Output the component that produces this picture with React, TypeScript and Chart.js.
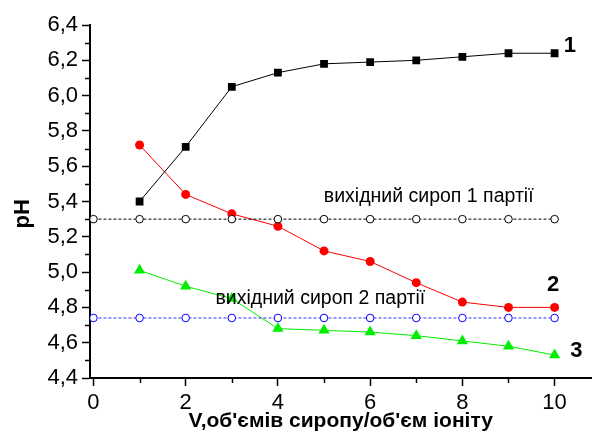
import React, { useEffect, useRef } from "react";
import { Chart, registerables } from "chart.js";

Chart.register(...registerables);

const xValues = [1, 2, 3, 4, 5, 6, 7, 8, 9, 10];
const series1 = [5.4, 5.71, 6.05, 6.13, 6.18, 6.19, 6.2, 6.22, 6.24, 6.24];
const series2 = [5.72, 5.44, 5.33, 5.26, 5.12, 5.06, 4.94, 4.83, 4.8, 4.8];
const series3 = [5.01, 4.92, 4.85, 4.68, 4.67, 4.66, 4.64, 4.61, 4.58, 4.53];
const refX = [0, 1, 2, 3, 4, 5, 6, 7, 8, 9, 10];
const ref1Value = 5.3;
const ref2Value = 4.74;
const xMajorTicks = [0, 2, 4, 6, 8, 10];
const xMinorTicks = [1, 3, 5, 7, 9];
const yMajorTicks = [4.4, 4.6, 4.8, 5.0, 5.2, 5.4, 5.6, 5.8, 6.0, 6.2, 6.4];
const yMinorTicks = [4.5, 4.7, 4.9, 5.1, 5.3, 5.5, 5.7, 5.9, 6.1, 6.3];
const ref1Label = "вихідний сироп 1 партії";
const ref2Label = "вихідний сироп 2 партії";
const curveLabels = ["1", "2", "3"];
const yTitle = "pH";
const xTitle = "V,об'ємів сиропу/об'єм іоніту";

const FONT = "'Liberation Sans', Arial, sans-serif";

const annotations = [
  { text: ref1Label, x: 7.27, y: 5.43, size: 19.5, bold: false },
  { text: ref2Label, x: 4.92, y: 4.85, size: 19.5, bold: false },
  { text: curveLabels[0], x: 10.33, y: 6.28, size: 22, bold: true },
  { text: curveLabels[1], x: 9.97, y: 4.93, size: 22, bold: true },
  { text: curveLabels[2], x: 10.47, y: 4.554, size: 22, bold: true },
];

const extrasPlugin = {
  id: "extras",
  afterDraw(chart: any) {
    const ctx = chart.ctx;
    const xs = chart.scales.x;
    const ys = chart.scales.y;
    ctx.save();
    ctx.strokeStyle = "#000";
    ctx.lineWidth = 1.5;
    ctx.beginPath();
    for (const v of xMinorTicks) {
      const px = Math.round(xs.getPixelForValue(v)) + 0.5;
      ctx.moveTo(px, xs.top);
      ctx.lineTo(px, xs.top + 5);
    }
    for (const v of yMinorTicks) {
      const py = Math.round(ys.getPixelForValue(v)) + 0.5;
      ctx.moveTo(ys.right, py);
      ctx.lineTo(ys.right - 5, py);
    }
    ctx.stroke();
    ctx.fillStyle = "#000";
    ctx.textAlign = "center";
    ctx.textBaseline = "middle";
    for (const a of annotations) {
      ctx.font = `${a.bold ? "bold " : ""}${a.size}px ${FONT}`;
      ctx.fillText(a.text, xs.getPixelForValue(a.x), ys.getPixelForValue(a.y));
    }
    // y axis title
    ctx.font = `bold 22px ${FONT}`;
    ctx.translate(23, ys.getPixelForValue(5.33));
    ctx.rotate(-Math.PI / 2);
    ctx.fillText(yTitle, 0, 0);
    ctx.restore();
  },
};

export default function App() {
  const ref = useRef<HTMLCanvasElement | null>(null);
  useEffect(() => {
    if (!ref.current) return;
    const chart = new Chart(ref.current, {
      type: "line",
      data: {
        datasets: [
          {
            data: refX.map((x) => ({ x, y: ref1Value })),
            borderColor: "#000",
            borderWidth: 1,
            borderDash: [3, 2],
            pointStyle: "circle",
            pointRadius: 3.8,
            pointBackgroundColor: "#fff",
            pointBorderColor: "#000",
            pointBorderWidth: 1,
          },
          {
            data: refX.map((x) => ({ x, y: ref2Value })),
            borderColor: "#3333ff",
            borderWidth: 1,
            borderDash: [3, 2],
            pointStyle: "circle",
            pointRadius: 3.8,
            pointBackgroundColor: "#fff",
            pointBorderColor: "#0000ff",
            pointBorderWidth: 1,
          },
          {
            data: xValues.map((x, i) => ({ x, y: series1[i] })),
            borderColor: "#000",
            borderWidth: 1,
            pointStyle: "rect",
            pointRadius: 5.5,
            pointBackgroundColor: "#000",
            pointBorderColor: "#000",
            pointBorderWidth: 0,
          },
          {
            data: xValues.map((x, i) => ({ x, y: series2[i] })),
            borderColor: "#ff0000",
            borderWidth: 1,
            pointStyle: "circle",
            pointRadius: 4.5,
            pointBackgroundColor: "#ff0000",
            pointBorderColor: "#ff0000",
            pointBorderWidth: 0,
          },
          {
            data: xValues.map((x, i) => ({ x, y: series3[i] })),
            borderColor: "#00ee00",
            borderWidth: 1,
            pointStyle: "triangle",
            pointRadius: 6.5,
            pointBackgroundColor: "#00ee00",
            pointBorderColor: "#00ee00",
            pointBorderWidth: 0,
          },
        ],
      },
      options: {
        animation: false,
        responsive: false,
        layout: { padding: { top: 25, right: 2, left: 0, bottom: 0 } },
        plugins: { legend: { display: false }, tooltip: { enabled: false } },
        scales: {
          x: {
            type: "linear",
            min: -0.075,
            max: 10.8,
            afterBuildTicks: (s: any) => {
              s.ticks = xMajorTicks.map((v) => ({ value: v }));
            },
            afterFit: (s: any) => {
              s.height = 64;
            },
            grid: {
              drawOnChartArea: false,
              drawTicks: true,
              tickLength: 8,
              tickColor: "#000",
              tickWidth: 1.5,
            },
            border: { display: true, color: "#000", width: 2 },
            ticks: {
              color: "#000",
              padding: 4,
              maxRotation: 0,
              font: { family: FONT, size: 22 },
              callback: (v: any) => String(v),
            },
            title: {
              display: true,
              text: xTitle,
              color: "#000",
              font: { family: FONT, size: 21, weight: "bold" },
              padding: { top: 0, bottom: 8 },
            },
          },
          y: {
            type: "linear",
            min: 4.4,
            max: 6.4,
            afterBuildTicks: (s: any) => {
              s.ticks = yMajorTicks.map((v) => ({ value: v }));
            },
            afterFit: (s: any) => {
              s.width = 90;
            },
            grid: {
              drawOnChartArea: false,
              drawTicks: true,
              tickLength: 8,
              tickColor: "#000",
              tickWidth: 1.5,
            },
            border: { display: true, color: "#000", width: 2 },
            ticks: {
              color: "#000",
              padding: 4,
              font: { family: FONT, size: 22 },
              callback: (v: any) => Number(v).toFixed(1).replace(".", ","),
            },
            title: { display: false },
          },
        },
      },
      plugins: [extrasPlugin],
    } as any);
    return () => chart.destroy();
  }, []);
  return (
    <div style={{ position: "absolute", left: 0, top: 0, width: 598, height: 442, background: "#fff" }}>
      <canvas ref={ref} width={598} height={442} style={{ display: "block" }} />
    </div>
  );
}
